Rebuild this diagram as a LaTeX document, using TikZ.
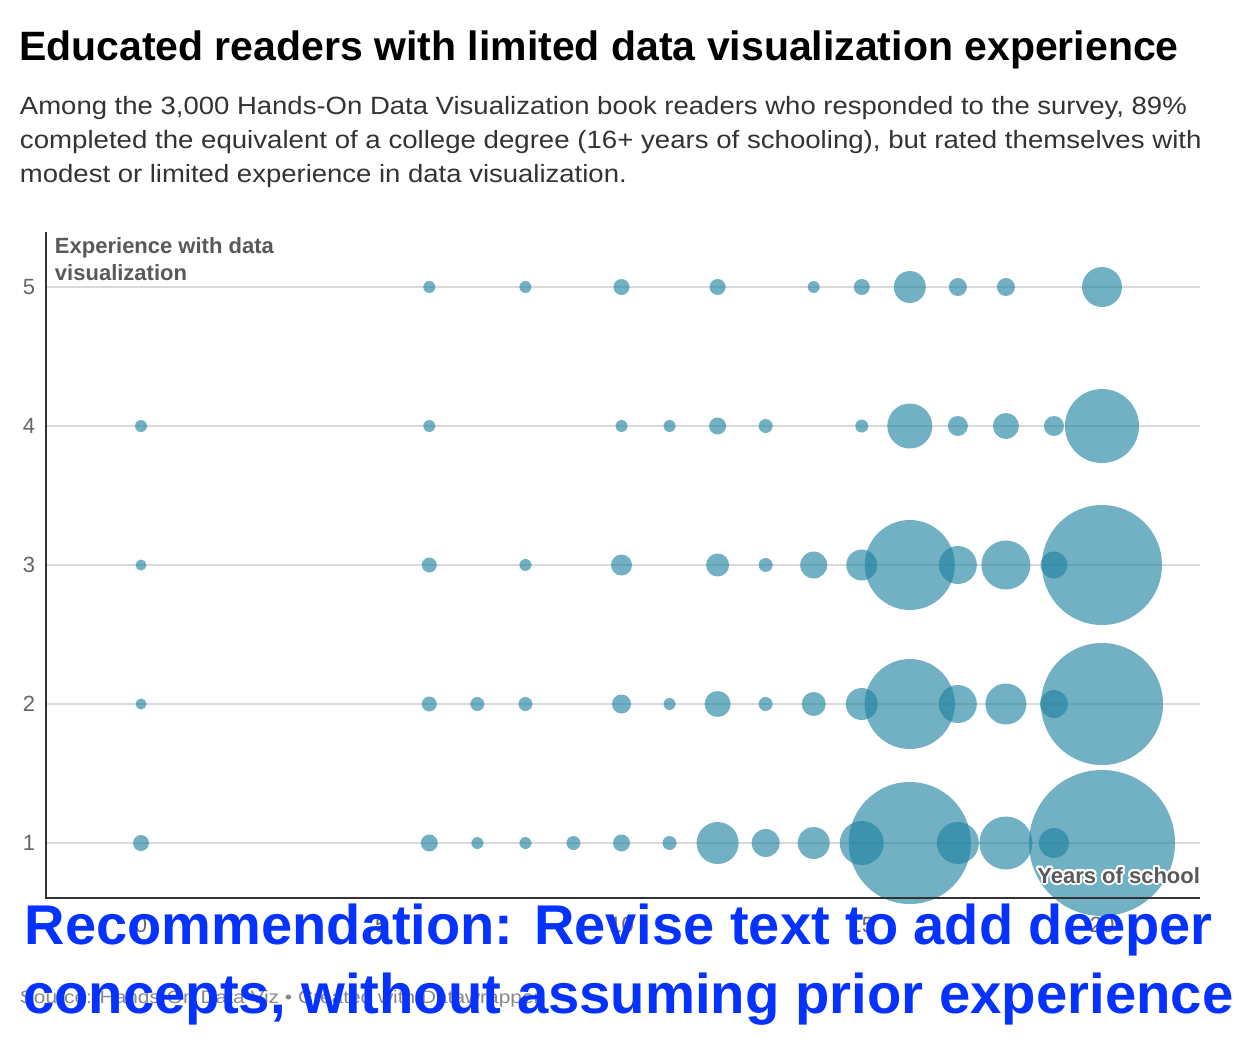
\documentclass[tikz,border=0pt]{standalone}
\usepackage{fontspec}
\setmainfont{Liberation Sans}
\usepackage{graphicx}
\usepackage{contour}
\contourlength{1.5pt}
\definecolor{bubblec}{RGB}{29,129,160}
\definecolor{gridc}{RGB}{217,217,217}
\definecolor{axisc}{RGB}{51,51,51}
\definecolor{labelc}{RGB}{102,102,102}
\definecolor{axtitlec}{RGB}{89,89,89}
\definecolor{subc}{RGB}{51,51,51}
\definecolor{sourcec}{RGB}{136,136,136}
\definecolor{recc}{RGB}{5,50,255}
\newcommand{\fsz}[1]{\fontsize{#1}{#1}\selectfont}
\tikzset{
  bubble/.style={fill=bubblec, fill opacity=0.62},
  gridline/.style={draw=gridc, line width=1.5pt},
  axisline/.style={draw=axisc, line width=1.6pt},
  txt/.style={inner sep=0pt, outer sep=0pt},
  ticklbl/.style={txt, text=labelc, font=\fsz{16.5pt}},
  axtitle/.style={txt, text=axtitlec, font=\bfseries\fsz{16.5pt}},
  subline/.style={txt, anchor=base west, text=subc, font=\fsz{18.75pt}},
  recline/.style={txt, anchor=base west, text=recc, font=\bfseries\fsz{42pt}},
}
\begin{document}
\begin{tikzpicture}[x=0.75pt,y=-0.75pt]
\useasboundingbox (0,0) rectangle (1240,1040);
\fill[white] (0,0) rectangle (1240,1040);
% title and subtitle
\node[txt, anchor=base west, font=\bfseries\fsz{30.75pt}] (title) at (19,60) {Educated readers with limited data visualization experience};
\node[subline] (sub1) at (20,114) {\scalebox{1.1}[1]{Among the 3,000 Hands-On Data Visualization book readers who responded to the survey, 89\%}};
\node[subline] (sub2) at (20,148) {\scalebox{1.105}[1]{completed the equivalent of a college degree (16+ years of schooling), but rated themselves with}};
\node[subline] (sub3) at (20,182) {\scalebox{1.1}[1]{modest or limited experience in data visualization.}};
% grid lines and y labels
\foreach \rw in {1,...,5}{
  \draw[gridline] (46,{843-139*(\rw-1)}) -- (1200,{843-139*(\rw-1)});
  \node[ticklbl] (y\rw) at (29,{843-139*(\rw-1)}) {\rw};
}
% bubbles: year/row/radius(px)
\foreach \yr/\rw/\rad in {
  6/5/6, 8/5/6, 10/5/8, 12/5/8, 14/5/6, 15/5/8, 16/5/16, 17/5/9, 18/5/9, 20/5/20,
  0/4/6, 6/4/6, 10/4/6, 11/4/6, 12/4/8.5, 13/4/7, 15/4/6.5, 16/4/22.5, 17/4/10, 18/4/13, 19/4/10, 20/4/37,
  0/3/5.5, 6/3/7.5, 8/3/6, 10/3/10.5, 12/3/11.5, 13/3/7, 14/3/13.5, 15/3/15.5, 16/3/45, 17/3/19, 18/3/24.5, 19/3/13.5, 20/3/60,
  0/2/5.5, 6/2/7.5, 7/2/7, 8/2/7, 10/2/9.5, 11/2/6, 12/2/13, 13/2/7, 14/2/12, 15/2/16, 16/2/45, 17/2/19, 18/2/20.5, 19/2/14, 20/2/61,
  0/1/8, 6/1/8.5, 7/1/6, 8/1/6, 9/1/7, 10/1/8.5, 11/1/7, 12/1/21, 13/1/14, 14/1/16, 15/1/22, 16/1/61, 17/1/21, 18/1/26.5, 19/1/15, 20/1/73}{
  \fill[bubble] ({141+48.05*\yr},{843-139*(\rw-1)}) circle[radius=\rad];
}
% axes
\coordinate (otop) at (46,232);
\coordinate (orig) at (46,898);
\coordinate (xend) at (1200,898);
\draw[axisline] (otop) -- (orig) -- (xend);
% axis titles
\node[axtitle, anchor=base west] (ytitle1) at (55,253) {Experience with data};
\node[axtitle, anchor=base west] (ytitle2) at (55,280) {visualization};
\node[axtitle, anchor=base east] (xtitle) at (1200,883) {\contour{white}{Years of school}};
% x tick labels
\foreach \yr in {0,5,10,15,20}{
  \node[ticklbl] (x\yr) at ({141+48.05*\yr},925) {\yr};
}
% source
\node[txt, anchor=base west, text=sourcec, font=\fsz{13.5pt}] (source) at (20,1003) {\scalebox{1.16}[1]{Source: Hands-On Data Viz • Created with Datawrapper}};
% recommendation
\node[recline] (rec1) at (25,944) {Recommendation: Revise text to add deeper};
\node[recline] (rec2) at (23,1013) {\scalebox{1.005}[1]{concepts, without assuming prior experience}};
\end{tikzpicture}
\end{document}
